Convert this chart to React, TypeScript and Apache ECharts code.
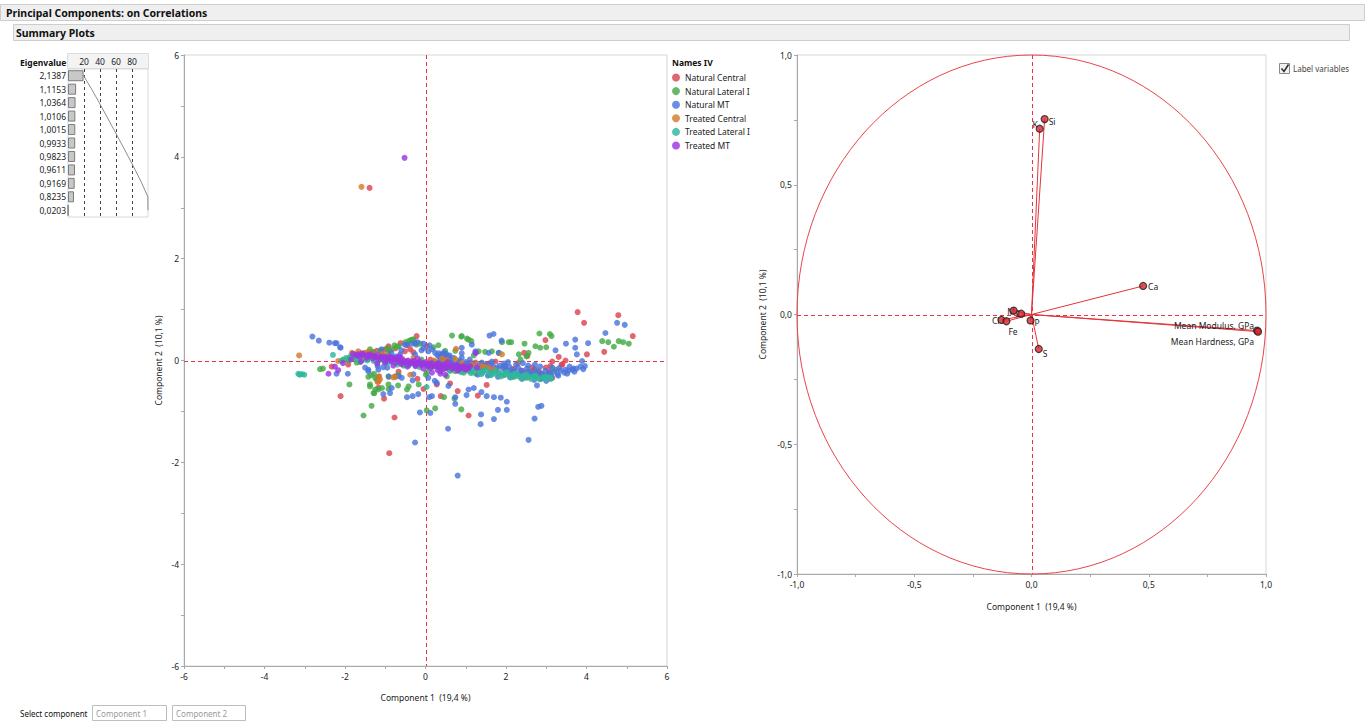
import React, { useEffect, useRef } from "react";
import * as echarts from "echarts";

const FONT = "'Noto Sans', 'DejaVu Sans', sans-serif";

// ---------- Eigenvalues ----------
const eigenvalues = [2.1387, 1.1153, 1.0364, 1.0106, 1.0015, 0.9933, 0.9823, 0.9611, 0.9169, 0.8235, 0.0203];
const percentTicks = [20, 40, 60, 80];

// ---------- Score plot (Component 1 vs Component 2) ----------
const groupNames = ["Natural Central", "Natural Lateral I", "Natural MT", "Treated Central", "Treated Lateral I", "Treated MT"];
const groupColors = ["#dc4450", "#44ab45", "#4a74dc", "#d37a2c", "#2fb79b", "#9b36e0"];

const naturalCentral: [number, number][] = [
  [-1.39, 3.39], [3.78, 0.95], [3.94, 0.74], [4.79, 0.89], [5.15, 0.48], [4.44, 0.17], [4.01, 0.12], [3.48, 0.0],
  [3.38, -0.08], [3.31, 0.07], [3.15, -0.02], [2.98, 0.4], [2.53, 0.09], [2.45, 0.15], [1.07, -1.08], [1.3, -0.69],
  [0.8, -0.6], [0.61, -0.45], [0.28, -0.47], [-0.05, -0.56], [-0.77, -1.12], [-0.9, -1.82], [-1.03, -0.75], [-2.11, -0.7],
  [-2.33, -0.12], [-0.22, 0.48], [0.03, 0.28], [-0.92, 0.28], [1.57, -0.06], [1.74, -0.02], [1.4, -0.06], [1.24, -0.04],
  [1.07, -0.06], [2.7, -0.18], [2.82, -0.22], [2.99, -0.14], [3.07, -0.22], [-1.17, -0.41], [-1.17, -0.32], [-0.67, -0.22],
  [0.65, -0.05], [0.24, -0.02], [-0.51, 0.18], [-0.38, 0.22], [-0.3, 0.16], [0.45, -0.04], [-1.17, -0.53], [3.1, -0.11],
  [3.4, -0.08], [2.65, -0.14], [3.15, -0.34], [1.65, -0.24], [-1.6, 0.12], [-1.42, 0.16], [-1.21, 0.19], [-1.0, 0.22],
  [-0.62, 0.34], [-1.88, 0.05], [0.92, -0.1], [1.95, -0.12], [2.2, -0.16], [2.4, -0.2], [0.12, 0.02], [-1.92, -0.08],
  [1.52, -0.48], [0.38, -0.7], [2.3, -0.05], [-0.2, -0.36], [-1.7, 0.1], [-1.5, 0.13], [-1.3, 0.15], [-1.1, 0.17],
  [-0.9, 0.2], [-0.75, 0.24], [-0.45, 0.3], [-1.25, 0.06], [-0.85, 0.0], [0.35, -0.1], [0.85, -0.14], [1.3, -0.14],
  [2.0, -0.18], [2.55, -0.22], [2.9, -0.26],
];

const naturalLateral: [number, number][] = [
  [-2.62, -0.17], [-2.55, -0.16], [-1.89, -0.47], [-1.54, -1.08], [-1.42, -0.32], [-1.35, -0.29], [-1.28, -0.26], [-1.21, -0.38],
  [-1.27, -0.64], [-1.17, -0.57], [-1.08, -0.54], [-0.92, -0.56], [-0.92, -0.47], [-1.38, -0.47], [-0.46, -0.57], [-0.68, -0.49],
  [-0.22, 0.31], [0.01, -0.28], [0.03, -0.98], [0.24, -0.94], [0.46, -0.72], [0.72, -0.75], [0.89, -0.96], [0.66, 0.49],
  [0.89, 0.47], [1.03, 0.43], [1.14, 0.38], [0.32, 0.3], [0.49, 0.19], [0.74, 0.19], [1.9, 0.36], [2.07, 0.36],
  [2.13, 0.36], [2.46, 0.33], [2.73, 0.28], [2.85, 0.25], [3.0, 0.26], [2.83, 0.53], [3.09, 0.52], [3.13, 0.48],
  [2.56, 0.15], [2.32, 0.12], [2.51, 0.08], [2.36, 0.02], [4.39, 0.38], [4.54, 0.36], [4.68, 0.27], [4.8, 0.38],
  [4.91, 0.36], [5.05, 0.33], [-0.77, 0.3], [-0.37, 0.4], [-0.32, 0.41], [-0.27, 0.36], [-0.13, 0.33], [-0.92, 0.15],
  [-1.09, 0.07], [-1.63, -0.03], [-2.08, -0.01], [3.23, -0.18], [-1.34, -0.89], [1.32, 0.18], [1.48, 0.17], [1.65, 0.18],
  [1.82, 0.15], [1.82, -0.24], [2.32, -0.28], [-2.04, 0.02], [-1.9, 0.0], [-1.71, -0.04], [-1.38, 0.22], [-0.84, 0.22],
  [-0.67, 0.28], [-0.42, 0.38], [-0.3, 0.41], [-1.25, -0.34], [-1.38, -0.51], [-1.29, -0.64], [-1.25, -0.57], [-0.92, -0.31],
  [-0.67, -0.28], [-0.42, -0.51], [-0.17, -0.47], [0.03, -0.24], [0.41, -0.14], [0.53, -0.31], [0.74, -0.21], [0.9, 0.48],
  [1.07, 0.41], [0.2, 0.26], [1.2, 0.1], [2.95, -0.3], [2.6, -0.26], [1.1, -0.2], [-0.55, -0.1], [-1.75, 0.12],
  [-1.52, 0.14], [-1.3, 0.17], [-1.12, 0.2], [-0.95, 0.24], [-0.7, 0.27], [-0.5, 0.36], [0.6, -0.2], [0.95, -0.24],
  [1.25, -0.26], [1.6, -0.28], [1.95, -0.29], [2.2, -0.32], [2.5, -0.34], [2.85, -0.37], [1.4, -0.2], [2.1, -0.22],
  [2.75, -0.27], [-0.1, 0.02], [0.2, -0.04],
];

const naturalMT: [number, number][] = [
  [-2.81, 0.47], [-2.65, 0.39], [-2.39, 0.35], [-2.21, 0.34], [-2.11, 0.25], [-0.26, -1.61], [0.8, -2.26], [0.56, -1.34],
  [-0.14, -1.02], [0.12, -1.03], [0.09, -0.72], [-0.46, -0.72], [-0.32, -0.7], [-0.18, -0.66], [0.74, -0.85], [0.74, -0.72],
  [1.02, -0.68], [1.07, -0.57], [1.2, -0.54], [1.38, -1.06], [1.37, -1.25], [1.7, -1.15], [1.8, -0.97], [2.02, -0.97],
  [2.02, -0.81], [1.87, -0.73], [1.7, -0.72], [1.52, -0.7], [1.39, -0.62], [2.56, -1.56], [2.71, -1.14], [2.8, -0.91],
  [2.88, -0.89], [2.77, -0.49], [1.59, 0.49], [1.69, 0.52], [1.89, 0.39], [3.49, 0.33], [3.72, 0.41], [4.04, 0.34],
  [4.47, 0.54], [4.76, 0.74], [4.95, 0.7], [3.72, 0.25], [3.76, 0.12], [3.89, -0.01], [3.96, -0.11], [3.68, -0.16],
  [3.48, -0.18], [3.23, 0.2], [0.16, -0.7], [0.28, -0.44], [-0.32, -0.39], [-0.67, -0.31], [-0.91, -0.32], [-0.95, -0.14],
  [-1.19, -0.11], [-1.42, -0.18], [-1.93, -0.26], [-2.21, -0.26], [-0.51, 0.31], [-0.26, 0.33], [-0.05, 0.33], [0.24, 0.15],
  [0.41, 0.12], [0.49, 0.02], [0.7, 0.05], [0.9, 0.14], [1.24, 0.15], [1.57, 0.15], [1.82, 0.15],
  [0.3, 0.1], [0.35, 0.06], [0.42, 0.12], [0.48, 0.08], [0.55, 0.04], [0.38, 0.02], [0.6, 0.1], [0.52, -0.02],
  [0.66, -0.04], [0.78, -0.06], [0.85, 0.0], [0.95, -0.08], [1.05, -0.1], [1.12, -0.04], [1.2, -0.12], [1.32, -0.1],
  [1.45, -0.14], [1.52, -0.08], [1.6, -0.16], [1.68, -0.12], [1.75, -0.18], [1.85, -0.1], [1.92, -0.15], [2.0, -0.2],
  [2.08, -0.12], [2.15, -0.18], [2.22, -0.22], [2.3, -0.14], [2.38, -0.2], [2.45, -0.24], [2.52, -0.16], [2.6, -0.22],
  [2.68, -0.26], [2.75, -0.18], [2.82, -0.24], [2.9, -0.28], [2.98, -0.2], [3.05, -0.26], [3.12, -0.3], [3.2, -0.22],
  [3.28, -0.27], [3.36, -0.2], [3.45, -0.24], [3.55, -0.2], [3.65, -0.18], [3.75, -0.16], [3.85, -0.12], [1.4, -0.04],
  [1.65, -0.02], [1.95, -0.06], [2.25, -0.08], [2.55, -0.1], [2.85, -0.12], [3.15, -0.14], [1.1, 0.02], [0.9, 0.05],
  [1.3, -0.28], [1.55, -0.3], [1.8, -0.32], [2.1, -0.33], [2.4, -0.36], [2.7, -0.38], [3.0, -0.4], [3.1, -0.36],
  [2.9, -0.35], [-2.25, 0.34], [-2.12, 0.26], [-1.09, 0.22], [-0.75, 0.08], [-0.63, 0.12], [-0.47, 0.31], [-0.34, 0.33],
  [-0.26, 0.12], [-0.05, 0.24], [0.07, 0.18], [0.16, 0.22], [0.46, 0.16], [0.58, 0.05], [0.9, 0.25], [1.15, 0.31],
  [1.24, 0.18], [-1.5, -0.14], [-1.42, -0.21], [-1.17, -0.18], [-1.05, -0.13], [-0.75, -0.31], [-0.59, -0.34], [-0.3, -0.27],
  [0.07, -0.34], [0.23, -0.4], [0.57, -0.5], [-0.84, -0.54], [-1.05, -0.66], [-0.88, -0.64], [0.33, 0.14], [0.44, 0.09],
  [0.51, 0.13], [0.57, 0.08], [0.62, 0.02], [0.46, -0.01], [0.36, -0.03], [0.7, -0.08], [0.82, -0.03], [1.0, -0.03],
  [1.18, -0.08], [1.35, -0.16], [1.5, -0.11], [1.63, -0.06], [1.78, -0.14], [1.98, -0.1], [2.12, -0.24], [2.35, -0.25],
  [2.62, -0.28], [2.88, -0.3], [3.1, -0.24], [3.3, -0.3], [3.52, -0.26], [3.7, -0.22], [3.92, -0.17], [3.58, -0.12],
  [3.32, -0.15], [2.72, -0.08], [2.42, -0.05], [2.05, -0.03], [-0.2, 0.36], [-0.1, 0.2], [0.1, 0.3], [-0.6, 0.2],
  [-0.85, 0.15],
];

const treatedCentral: [number, number][] = [
  [-1.59, 3.41], [-3.14, 0.1], [0.76, 0.23], [-1.15, -0.31], [-1.13, -0.37], [-1.19, -0.42], [-0.38, -0.28], [-0.75, -0.32],
  [-0.8, -0.33], [-1.5, 0.15], [-1.42, 0.17], [-1.75, 0.07], [-1.67, 0.18], [-1.83, 0.15], [-2.17, -0.01], [0.49, -0.01],
  [0.41, 0.04], [0.53, 0.01], [0.74, 0.03], [1.9, 0.12], [0.07, -0.05], [1.4, -0.11], [1.48, -0.13], [1.57, -0.14],
  [-0.6, 0.02], [-0.95, 0.08], [1.15, -0.08], [-1.58, 0.11], [-1.33, 0.12], [-1.05, 0.13], [-0.3, 0.05], [0.2, 0.0],
  [0.9, -0.05], [1.25, -0.12], [1.7, -0.18],
];

const treatedLateral: [number, number][] = [
  [-3.16, -0.26], [-3.13, -0.28], [-3.1, -0.27], [-3.06, -0.27], [-3.01, -0.28], [-2.08, 0.0], [-1.97, 0.05], [-1.86, 0.08],
  [-1.78, 0.04], [-1.66, 0.07], [-1.53, 0.02], [-1.41, 0.04], [-1.29, -0.01], [-1.14, 0.01], [-1.02, -0.03], [-0.87, -0.02],
  [-0.76, -0.05], [-0.61, -0.04], [-0.49, -0.08], [-0.36, -0.06], [-0.24, -0.1], [-0.09, -0.08], [0.03, -0.52], [0.05, -0.12],
  [0.18, -0.11], [0.31, -0.14], [0.44, -0.13], [0.57, -0.17], [0.69, -0.15], [0.82, -0.19], [0.96, -0.17], [1.08, -0.21],
  [1.19, -0.19], [1.33, -0.23], [1.44, -0.21], [1.58, -0.25], [1.69, -0.23], [1.83, -0.27], [1.94, -0.25], [2.07, -0.29],
  [2.19, -0.27], [2.31, -0.31], [2.43, -0.29], [2.56, -0.33], [2.67, -0.31], [2.79, -0.35], [2.91, -0.33], [3.02, -0.36],
  [3.13, -0.35], [1.02, -0.14], [1.27, -0.17], [1.51, -0.19], [1.76, -0.21], [2.02, -0.23], [2.27, -0.26], [2.52, -0.28],
  [2.74, -0.3], [2.97, -0.32], [0.88, -0.23], [1.13, -0.25], [1.39, -0.27], [1.63, -0.29], [1.88, -0.31], [2.13, -0.33],
  [2.38, -0.35], [2.62, -0.36], [-2.3, 0.11], [-1.92, 0.03], [-1.7, 0.02], [-1.45, 0.0], [-1.2, -0.03], [-0.95, -0.05],
  [-0.7, -0.08], [-0.42, -0.1], [-0.15, -0.13], [0.12, -0.15], [0.38, -0.17], [0.63, -0.2], [0.9, -0.2], [1.15, -0.22],
  [1.42, -0.24], [1.7, -0.26], [1.97, -0.28], [2.22, -0.3], [2.48, -0.32], [2.72, -0.34], [2.95, -0.35], [3.08, -0.33],
];

const treatedMT: [number, number][] = [
  [-0.52, 3.98], [-2.41, -0.26], [-2.17, -0.19], [0.16, -0.24], [0.37, -0.26], [1.25, 0.15],
  [-1.72, 0.1], [-1.63, 0.07], [-1.55, 0.11], [-1.47, 0.05], [-1.4, 0.08], [-1.31, 0.04], [-1.24, 0.07], [-1.15, 0.02],
  [-1.08, 0.05], [-0.99, 0.0], [-0.93, 0.04], [-0.85, -0.01], [-0.77, 0.02], [-0.7, -0.03], [-0.62, 0.0], [-0.55, -0.04],
  [-0.47, -0.01], [-0.4, -0.06], [-0.33, -0.02], [-0.26, -0.07], [-0.18, -0.04], [-0.11, -0.09], [-0.04, -0.05], [0.04, -0.1],
  [0.11, -0.07], [0.19, -0.12], [0.27, -0.08], [0.34, -0.13], [0.42, -0.1], [0.5, -0.15], [0.58, -0.11], [0.66, -0.16],
  [0.74, -0.12], [0.83, -0.17], [0.91, -0.13], [0.99, -0.18], [1.07, -0.15], [-1.2, -0.06], [-0.8, -0.1], [-0.45, -0.12],
  [-0.05, -0.16], [0.3, -0.19], [-0.65, 0.08], [-0.2, 0.04], [0.55, -0.03], [-1.6, -0.02], [-1.85, 0.02], [-2.05, -0.05],
  [-2.25, -0.12], [-0.84, 0.06], [0.37, -0.21], [0.49, -0.28], [0.82, -0.11], [0.99, -0.14], [1.11, -0.11], [1.28, -0.14],
  [-1.8, 0.13], [-1.68, 0.12], [-1.58, 0.14], [-1.44, 0.11], [-1.36, 0.12], [-1.27, 0.09], [-1.19, 0.1], [-1.11, 0.07],
  [-1.03, 0.08], [-0.96, 0.06], [-0.89, 0.07], [-0.81, 0.03], [-0.73, 0.05], [-0.66, 0.01], [-0.58, 0.03], [-0.51, -0.02],
  [-0.43, 0.0], [-0.36, -0.04], [-0.29, -0.01], [-0.22, -0.06], [-0.14, -0.02], [-0.07, -0.07], [0.01, -0.03], [0.08, -0.08],
  [0.15, -0.05], [0.23, -0.1], [0.31, -0.06], [0.38, -0.11], [0.46, -0.08], [0.54, -0.13], [0.62, -0.09], [0.7, -0.14],
  [0.78, -0.1], [0.87, -0.15], [0.95, -0.11], [1.03, -0.16], [-1.0, -0.04], [-0.6, -0.07], [-0.25, -0.11], [0.1, -0.14],
  [0.45, -0.17], [0.8, -0.2],
];

const scoreGroups = [naturalCentral, naturalLateral, naturalMT, treatedCentral, treatedLateral, treatedMT];
const axisTicksScore = [-6, -4, -2, 0, 2, 4, 6];

// ---------- Loading plot ----------
const loadingNames = ["Mean Modulus, GPa", "Mean Hardness, GPa", "Ca", "Si", "K", "Na", "Mg", "Cl", "Fe", "P", "S"];
const loadingX = [0.962, 0.966, 0.476, 0.056, 0.035, -0.076, -0.044, -0.128, -0.107, -0.004, 0.031];
const loadingY = [-0.062, -0.066, 0.11, 0.753, 0.716, 0.015, 0.003, -0.021, -0.026, -0.023, -0.133];

// label placement (style, not data)
const labelPlace: Record<string, { dx: number; dy: number; align: string; show?: boolean }> = {
  "Mean Modulus, GPa": { dx: -3, dy: -5, align: "right" },
  "Mean Hardness, GPa": { dx: -4, dy: 10, align: "right" },
  Ca: { dx: 5, dy: 1, align: "left" },
  Si: { dx: 4, dy: 2, align: "left" },
  K: { dx: -2, dy: -4, align: "right" },
  Na: { dx: 0, dy: 0, align: "left", show: false },
  Mg: { dx: -1, dy: -2, align: "right" },
  Cl: { dx: -2, dy: 1, align: "right" },
  Fe: { dx: 2, dy: 10, align: "left" },
  P: { dx: 4, dy: 2, align: "left" },
  S: { dx: 4, dy: 4, align: "left" },
};

const commaFmt = (v: number, d: number) => v.toFixed(d).replace(".", ",");

function zeroLineSeries(axisIndex: number) {
  return {
    type: "custom",
    xAxisIndex: axisIndex,
    yAxisIndex: axisIndex,
    data: [[0, 0]],
    silent: true,
    z: 2,
    clip: false,
    renderItem: (params: any, api: any) => {
      const c = api.coord([0, 0]);
      const cs = params.coordSys;
      const x = Math.round(c[0]) + 0.5;
      const y = Math.round(c[1]) + 0.5;
      const style = { stroke: "#ee3340", lineWidth: 1, lineDash: [4, 3], fill: "none" };
      return {
        type: "group",
        children: [
          { type: "line", shape: { x1: x, y1: cs.y, x2: x, y2: cs.y + cs.height }, style },
          { type: "line", shape: { x1: cs.x, y1: y, x2: cs.x + cs.width, y2: y }, style },
        ],
      };
    },
  };
}

function buildOption() {
  const total = eigenvalues.reduce((a, b) => a + b, 0);
  const pct = eigenvalues.map((e) => (e / total) * 100);
  const cum: number[] = [];
  pct.reduce((acc, p) => {
    const c = acc + p;
    cum.push(c);
    return c;
  }, 0);
  const eigenLabels = eigenvalues.map((e) => commaFmt(e, 4));
  const loadingData = loadingX.map((x, i) => [x, loadingY[i], i]);

  const axisGray = "#a9a9a9";
  const lbl = { fontSize: 8.5, color: "#222", fontFamily: FONT };
  const halfFmt = (v: number) => (Math.abs(v * 2 - Math.round(v * 2)) < 1e-9 ? commaFmt(v, 1) : "");

  const scoreSeries = scoreGroups.map((g, i) => ({
    type: "scatter",
    name: groupNames[i],
    xAxisIndex: 1,
    yAxisIndex: 1,
    data: g,
    symbolSize: 6,
    itemStyle: { color: groupColors[i], opacity: 0.82 },
    z: 3,
  }));

  return {
    animation: false,
    backgroundColor: "#ffffff",
    textStyle: { fontFamily: FONT },
    legend: {
      data: groupNames,
      orient: "vertical",
      left: 672,
      top: 73,
      padding: 0,
      itemWidth: 8,
      itemHeight: 8,
      itemGap: 4.6,
      icon: "circle",
      textStyle: { fontSize: 8.5, color: "#222", fontFamily: FONT },
    },
    grid: [
      { left: 68, top: 69, width: 80, height: 148, show: true, borderColor: "#d9d9d9", borderWidth: 1 },
      { left: 184, top: 55, width: 483, height: 611, show: true, borderColor: "#d6d6d6", borderWidth: 1 },
      { left: 797, top: 55, width: 469, height: 519, show: true, borderColor: "#d6d6d6", borderWidth: 1 },
    ],
    xAxis: [
      {
        gridIndex: 0,
        type: "value",
        min: 0,
        max: 100,
        interval: 20,
        position: "top",
        axisLine: { show: false },
        axisTick: { show: false },
        axisLabel: {
          ...lbl,
          margin: 3,
          formatter: (v: number) => (percentTicks.includes(v) ? String(v) : ""),
        },
        splitLine: { show: true, showMinLine: false, showMaxLine: false, lineStyle: { color: "#444", type: [3, 3] } },
      },
      {
        gridIndex: 1,
        type: "value",
        min: -6,
        max: 6,
        interval: 1,
        name: "Component 1  (19,4 %)",
        nameLocation: "middle",
        nameGap: 27,
        nameTextStyle: { ...lbl },
        axisLine: { onZero: false, lineStyle: { color: axisGray } },
        axisTick: { length: 3, lineStyle: { color: axisGray } },
        axisLabel: { ...lbl, margin: 6, formatter: (v: number) => (axisTicksScore.includes(v) ? String(v) : "") },
        splitLine: { show: false },
      },
      {
        gridIndex: 2,
        type: "value",
        min: -1,
        max: 1,
        interval: 0.25,
        name: "Component 1  (19,4 %)",
        nameLocation: "middle",
        nameGap: 28,
        nameTextStyle: { ...lbl },
        axisLine: { onZero: false, lineStyle: { color: axisGray } },
        axisTick: { length: 3, lineStyle: { color: axisGray } },
        axisLabel: { ...lbl, margin: 6, formatter: halfFmt },
        splitLine: { show: false },
      },
    ],
    yAxis: [
      {
        gridIndex: 0,
        type: "category",
        data: eigenLabels,
        inverse: true,
        axisLine: { show: false },
        axisTick: { show: false },
        axisLabel: { ...lbl, margin: 2 },
        splitLine: { show: false },
      },
      {
        gridIndex: 1,
        type: "value",
        min: -6,
        max: 6,
        interval: 1,
        name: "Component 2  (10,1 %)",
        nameLocation: "middle",
        nameGap: 21,
        nameTextStyle: { ...lbl },
        axisLine: { onZero: false, lineStyle: { color: axisGray } },
        axisTick: { length: 3, lineStyle: { color: axisGray } },
        axisLabel: { ...lbl, margin: 5, formatter: (v: number) => (axisTicksScore.includes(v) ? String(v) : "") },
        splitLine: { show: false },
      },
      {
        gridIndex: 2,
        type: "value",
        min: -1,
        max: 1,
        interval: 0.25,
        name: "Component 2  (10,1 %)",
        nameLocation: "middle",
        nameGap: 30,
        nameTextStyle: { ...lbl },
        axisLine: { onZero: false, lineStyle: { color: axisGray } },
        axisTick: { length: 3, lineStyle: { color: axisGray } },
        axisLabel: { ...lbl, margin: 5, formatter: halfFmt },
        splitLine: { show: false },
      },
    ],
    series: [
      {
        type: "bar",
        xAxisIndex: 0,
        yAxisIndex: 0,
        data: pct,
        barWidth: 11,
        itemStyle: { color: "#c8c8c8", borderColor: "#7c7c7c", borderWidth: 1 },
        silent: true,
      },
      {
        type: "line",
        xAxisIndex: 0,
        yAxisIndex: 0,
        data: cum,
        symbol: "none",
        lineStyle: { color: "#8c8c8c", width: 1 },
        silent: true,
        z: 4,
      },
      zeroLineSeries(1),
      ...scoreSeries,
      // unit circle
      {
        type: "custom",
        xAxisIndex: 2,
        yAxisIndex: 2,
        data: [[0, 0]],
        silent: true,
        z: 1,
        renderItem: (_p: any, api: any) => {
          const c = api.coord([0, 0]);
          const s = api.size([1, 1]);
          return {
            type: "ellipse",
            shape: { cx: c[0], cy: c[1], rx: s[0], ry: s[1] },
            style: { fill: "none", stroke: "#e8454b", lineWidth: 1 },
          };
        },
      },
      zeroLineSeries(2),
      // vectors
      {
        type: "custom",
        xAxisIndex: 2,
        yAxisIndex: 2,
        data: loadingData,
        silent: true,
        z: 2,
        renderItem: (_p: any, api: any) => {
          const o = api.coord([0, 0]);
          const p = api.coord([api.value(0), api.value(1)]);
          return {
            type: "line",
            shape: { x1: o[0], y1: o[1], x2: p[0], y2: p[1] },
            style: { stroke: "#e3343a", lineWidth: 1 },
          };
        },
      },
      // labels
      {
        type: "custom",
        xAxisIndex: 2,
        yAxisIndex: 2,
        data: loadingData,
        silent: true,
        z: 3,
        renderItem: (params: any, api: any) => {
          const name = loadingNames[params.dataIndex];
          const place = labelPlace[name];
          const p = api.coord([api.value(0), api.value(1)]);
          if (place.show === false) return { type: "group", children: [] };
          return {
            type: "text",
            x: p[0] + place.dx,
            y: p[1] + place.dy,
            style: {
              text: name,
              fill: "#222",
              fontSize: 8.5,
              fontFamily: FONT,
              align: place.align,
              verticalAlign: "middle",
            },
          };
        },
      },
      // markers
      {
        type: "scatter",
        xAxisIndex: 2,
        yAxisIndex: 2,
        data: loadingData.map((d) => [d[0], d[1]]),
        symbolSize: 7,
        itemStyle: { color: "#d9262d", borderColor: "#1e1e1e", borderWidth: 1.2 },
        silent: true,
        z: 4,
      },
    ],
    graphic: [
      {
        type: "rect",
        shape: { x: 0.5, y: 4.5, width: 1364, height: 16 },
        style: { fill: "#efefef", stroke: "#cdcdcd", lineWidth: 1 },
      },
      {
        type: "text",
        x: 6,
        y: 13,
        style: { text: "Principal Components: on Correlations", fill: "#111", font: `bold 10.5px ${FONT}`, verticalAlign: "middle" },
      },
      {
        type: "rect",
        shape: { x: 13.5, y: 24.5, width: 1336, height: 16 },
        style: { fill: "#efefef", stroke: "#cdcdcd", lineWidth: 1 },
      },
      {
        type: "text",
        x: 16,
        y: 33,
        style: { text: "Summary Plots", fill: "#111", font: `bold 10.5px ${FONT}`, verticalAlign: "middle" },
      },
      {
        type: "rect",
        shape: { x: 67.5, y: 53.5, width: 81, height: 15 },
        style: { fill: "#f3f3f3", stroke: "#dcdcdc", lineWidth: 1 },
        z: -1,
      },
      {
        type: "text",
        x: 20,
        y: 62,
        style: { text: "Eigenvalue", fill: "#111", font: `bold 8.5px ${FONT}`, verticalAlign: "middle" },
      },
      {
        type: "text",
        x: 672,
        y: 62,
        style: { text: "Names IV", fill: "#111", font: `bold 8.5px ${FONT}`, verticalAlign: "middle" },
      },
      {
        type: "rect",
        shape: { x: 1279.5, y: 63.5, width: 10, height: 10 },
        style: { fill: "#f2f2f2", stroke: "#8a8a8a", lineWidth: 1 },
      },
      {
        type: "polyline",
        shape: { points: [[1281.5, 68.5], [1284, 71.5], [1288.5, 64.5]] },
        style: { stroke: "#333", lineWidth: 1.6, fill: "none" },
      },
      {
        type: "text",
        x: 1293,
        y: 68.5,
        style: { text: "Label variables", fill: "#444", font: `8px ${FONT}`, verticalAlign: "middle" },
      },
      {
        type: "text",
        x: 20,
        y: 713,
        style: { text: "Select component", fill: "#111", font: `8px ${FONT}`, verticalAlign: "middle" },
      },
      {
        type: "rect",
        shape: { x: 92.5, y: 705.5, width: 74, height: 15 },
        style: { fill: "#fff", stroke: "#bdbdbd", lineWidth: 1 },
      },
      {
        type: "text",
        x: 96,
        y: 713,
        style: { text: "Component 1", fill: "#9a9a9a", font: `8px ${FONT}`, verticalAlign: "middle" },
      },
      {
        type: "rect",
        shape: { x: 172.5, y: 705.5, width: 73, height: 15 },
        style: { fill: "#fff", stroke: "#bdbdbd", lineWidth: 1 },
      },
      {
        type: "text",
        x: 176,
        y: 713,
        style: { text: "Component 2", fill: "#9a9a9a", font: `8px ${FONT}`, verticalAlign: "middle" },
      },
    ],
  };
}

export default function App() {
  const ref = useRef<HTMLDivElement>(null);
  useEffect(() => {
    document.body.style.margin = "0";
    const chart = echarts.init(ref.current!, null, { renderer: "svg" });
    chart.setOption(buildOption() as any);
    return () => chart.dispose();
  }, []);
  return <div ref={ref} style={{ width: 1370, height: 725 }} />;
}
